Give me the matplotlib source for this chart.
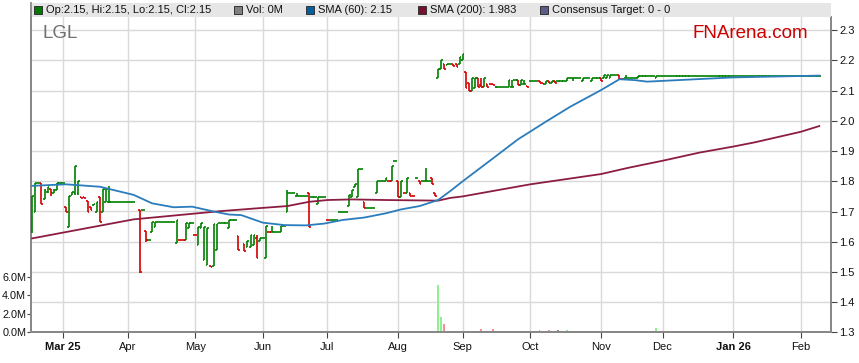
import numpy as np
import pandas as pd
import matplotlib
matplotlib.use("Agg")
import matplotlib.pyplot as plt

plt.rcParams["font.family"] = ["Liberation Sans", "DejaVu Sans"]
nan = np.nan

# trading days shown (weekdays), Feb 17 2025 -> Feb 10 2026
dates = pd.bdate_range("2025-02-17", "2026-02-10")

opens = [
    1.65, 1.70, 1.793, 1.793, 1.74, 1.765, 1.775, 1.76, 1.77, 1.793,
    1.793, 1.715, 1.65, 1.755, 1.76, 1.76, 1.747, 1.747, 1.735, 1.716,
    1.72, 1.70, 1.749, 1.70, 1.73, 1.73, 1.73, 1.73, 1.73, 1.73,
    1.73, 1.73, 1.73, 1.73, nan, 1.705, 1.705, 1.637, 1.606, 1.633,
    1.65, 1.666, 1.666, 1.666, 1.666, 1.666, 1.666, 1.595, 1.607, 1.607,
    1.606, 1.645, 1.663, 1.623, 1.59, 1.645, 1.54, 1.524, 1.521, 1.519,
    1.574, 1.663, 1.663, 1.663, 1.644, 1.672, 1.672, 1.62, nan, 1.594,
    1.581, 1.583, 1.59, 1.611, 1.602, 1.611, 1.547, 1.632, 1.631, 1.631,
    1.631, 1.631, 1.652, 1.70, 1.762, 1.762, 1.751, 1.751, 1.751, 1.751,
    1.762, 1.749, 1.749, 1.725, 1.749, 1.749, 1.673, 1.672, 1.672, 1.672,
    1.70, 1.70, 1.70, 1.718, 1.749, 1.78, 1.749, 1.84, 1.732, 1.71,
    1.71, 1.71, 1.761, 1.80, 1.80, 1.80, 1.801, 1.80, 1.868, 1.80,
    1.749, 1.761, 1.76, 1.76, 1.752, 1.81, 1.80, 1.80, 1.80, 1.80,
    1.81, 1.76, 2.141, 2.172, 2.19, 2.185, 2.19, 2.19, 2.19, 2.19,
    2.20, 2.163, 2.125, 2.10, 2.108, 2.141, 2.118, 2.113, 2.122, 2.122,
    2.122, 2.113, 2.113, 2.113, 2.113, 2.113, 2.113, 2.135, 2.135, 2.12,
    2.121, 2.114, 2.132, 2.132, 2.132, 2.132, 2.127, 2.122, 2.132, 2.125,
    2.132, 2.132, 2.132, 2.132, 2.132, 2.142, 2.142, 2.142, 2.142, 2.132,
    2.142, 2.142, 2.132, 2.142, 2.142, 2.142, 2.142, 2.142, 2.142, 2.152,
    2.152, 2.152, 2.14, 2.141, 2.141, 2.141, 2.141, 2.141, 2.15, 2.15,
    2.15, 2.15, 2.15, 2.143, 2.15, 2.15, 2.15, 2.15, 2.15, 2.15,
    2.15, 2.15, 2.15, 2.15, 2.15, 2.15, 2.15, 2.15, 2.15, 2.15,
    2.15, 2.15, 2.15, 2.15, 2.15, 2.15, 2.15, 2.15, 2.15, 2.15,
    2.15, 2.15, 2.15, 2.15, 2.15, 2.15, 2.15, 2.15, 2.15, 2.15,
    2.15, 2.15, 2.15, 2.15, 2.15, 2.15, 2.15, 2.15, 2.15, 2.15,
    2.15, 2.15, 2.15, 2.15, 2.15, 2.15, 2.15,
]
highs = [
    1.75, 1.793, 1.793, 1.793, 1.775, 1.78, 1.775, 1.775, 1.793, 1.793,
    1.793, 1.715, 1.75, 1.765, 1.852, 1.80, 1.747, 1.747, 1.735, 1.716,
    1.725, 1.733, 1.749, 1.775, 1.775, 1.783, 1.73, 1.73, 1.73, 1.73,
    1.73, 1.73, 1.73, 1.73, nan, 1.705, 1.705, 1.637, 1.606, 1.666,
    1.666, 1.666, 1.666, 1.666, 1.666, 1.666, 1.666, 1.672, 1.607, 1.607,
    1.663, 1.663, 1.663, 1.623, 1.648, 1.663, 1.65, 1.644, 1.521, 1.657,
    1.66, 1.663, 1.663, 1.663, 1.672, 1.672, 1.672, 1.62, nan, 1.594,
    1.602, 1.621, 1.621, 1.621, 1.611, 1.611, 1.652, 1.632, 1.652, 1.631,
    1.631, 1.652, 1.652, 1.771, 1.762, 1.762, 1.762, 1.751, 1.751, 1.751,
    1.762, 1.749, 1.749, 1.749, 1.749, 1.749, 1.673, 1.672, 1.672, 1.672,
    1.70, 1.70, 1.70, 1.754, 1.771, 1.79, 1.84, 1.84, 1.732, 1.71,
    1.71, 1.71, 1.80, 1.80, 1.80, 1.81, 1.801, 1.85, 1.868, 1.80,
    1.80, 1.761, 1.81, 1.76, 1.752, 1.81, 1.80, 1.80, 1.845, 1.80,
    1.81, 1.76, 2.172, 2.20, 2.19, 2.19, 2.19, 2.19, 2.19, 2.21,
    2.22, 2.163, 2.125, 2.141, 2.141, 2.141, 2.141, 2.141, 2.122, 2.122,
    2.122, 2.115, 2.113, 2.113, 2.113, 2.135, 2.135, 2.135, 2.135, 2.135,
    2.135, 2.114, 2.132, 2.132, 2.132, 2.132, 2.127, 2.132, 2.132, 2.132,
    2.132, 2.132, 2.132, 2.132, 2.142, 2.142, 2.142, 2.142, 2.142, 2.142,
    2.142, 2.142, 2.142, 2.142, 2.142, 2.142, 2.152, 2.152, 2.152, 2.152,
    2.152, 2.152, 2.14, 2.152, 2.141, 2.141, 2.141, 2.15, 2.15, 2.15,
    2.15, 2.15, 2.15, 2.15, 2.15, 2.15, 2.15, 2.15, 2.15, 2.15,
    2.15, 2.15, 2.15, 2.15, 2.15, 2.15, 2.15, 2.15, 2.15, 2.15,
    2.15, 2.15, 2.15, 2.15, 2.15, 2.15, 2.15, 2.15, 2.15, 2.15,
    2.15, 2.15, 2.15, 2.15, 2.15, 2.15, 2.15, 2.15, 2.15, 2.15,
    2.15, 2.15, 2.15, 2.15, 2.15, 2.15, 2.15, 2.15, 2.15, 2.15,
    2.15, 2.15, 2.15, 2.15, 2.15, 2.15, 2.15,
]
lows = [
    1.63, 1.70, 1.793, 1.725, 1.74, 1.762, 1.751, 1.76, 1.77, 1.793,
    1.793, 1.70, 1.65, 1.755, 1.755, 1.755, 1.746, 1.746, 1.70, 1.705,
    1.72, 1.70, 1.664, 1.70, 1.73, 1.729, 1.73, 1.73, 1.73, 1.73,
    1.73, 1.73, 1.73, 1.73, nan, 1.497, 1.705, 1.60, 1.606, 1.633,
    1.65, 1.666, 1.666, 1.666, 1.666, 1.666, 1.666, 1.595, 1.606, 1.606,
    1.606, 1.644, 1.663, 1.622, 1.59, 1.645, 1.54, 1.524, 1.517, 1.519,
    1.574, 1.663, 1.663, 1.663, 1.644, 1.672, 1.672, 1.572, nan, 1.57,
    1.581, 1.583, 1.589, 1.547, 1.602, 1.611, 1.547, 1.631, 1.631, 1.631,
    1.631, 1.631, 1.652, 1.699, 1.762, 1.762, 1.751, 1.751, 1.751, 1.751,
    1.65, 1.749, 1.749, 1.724, 1.749, 1.749, 1.672, 1.672, 1.672, 1.672,
    1.70, 1.70, 1.70, 1.718, 1.749, 1.78, 1.749, 1.84, 1.71, 1.71,
    1.71, 1.71, 1.761, 1.80, 1.80, 1.80, 1.80, 1.80, 1.868, 1.749,
    1.749, 1.76, 1.76, 1.751, 1.751, 1.81, 1.792, 1.80, 1.80, 1.80,
    1.792, 1.751, 2.141, 2.172, 2.172, 2.185, 2.19, 2.183, 2.18, 2.19,
    2.20, 2.108, 2.10, 2.10, 2.108, 2.113, 2.113, 2.113, 2.113, 2.121,
    2.12, 2.108, 2.113, 2.113, 2.113, 2.113, 2.113, 2.135, 2.12, 2.12,
    2.121, 2.113, 2.132, 2.132, 2.132, 2.127, 2.122, 2.122, 2.125, 2.125,
    2.127, 2.132, 2.132, 2.132, 2.132, 2.142, 2.132, 2.142, 2.142, 2.132,
    2.142, 2.142, 2.132, 2.142, 2.142, 2.132, 2.142, 2.142, 2.142, 2.152,
    2.152, 2.139, 2.139, 2.141, 2.141, 2.141, 2.141, 2.141, 2.15, 2.15,
    2.15, 2.15, 2.15, 2.143, 2.15, 2.15, 2.15, 2.15, 2.15, 2.15,
    2.15, 2.15, 2.15, 2.15, 2.15, 2.15, 2.15, 2.15, 2.15, 2.15,
    2.15, 2.15, 2.15, 2.15, 2.15, 2.15, 2.15, 2.15, 2.15, 2.15,
    2.15, 2.15, 2.15, 2.15, 2.15, 2.15, 2.15, 2.15, 2.15, 2.15,
    2.15, 2.15, 2.15, 2.15, 2.15, 2.15, 2.15, 2.15, 2.15, 2.15,
    2.15, 2.15, 2.15, 2.15, 2.15, 2.15, 2.15,
]
closes = [
    1.75, 1.793, 1.793, 1.725, 1.77, 1.78, 1.76, 1.77, 1.793, 1.793,
    1.793, 1.70, 1.75, 1.765, 1.852, 1.80, 1.746, 1.746, 1.70, 1.705,
    1.725, 1.733, 1.664, 1.775, 1.775, 1.73, 1.73, 1.73, 1.73, 1.73,
    1.73, 1.73, 1.73, 1.73, nan, 1.50, 1.705, 1.606, 1.606, 1.666,
    1.666, 1.666, 1.666, 1.666, 1.666, 1.666, 1.666, 1.672, 1.606, 1.606,
    1.663, 1.663, 1.663, 1.622, 1.648, 1.663, 1.65, 1.644, 1.517, 1.657,
    1.66, 1.663, 1.663, 1.663, 1.672, 1.672, 1.672, 1.572, nan, 1.57,
    1.602, 1.621, 1.621, 1.547, 1.611, 1.611, 1.652, 1.631, 1.631, 1.631,
    1.631, 1.652, 1.652, 1.762, 1.762, 1.762, 1.751, 1.751, 1.751, 1.751,
    1.65, 1.749, 1.749, 1.749, 1.749, 1.749, 1.672, 1.672, 1.672, 1.672,
    1.70, 1.70, 1.70, 1.754, 1.771, 1.79, 1.84, 1.84, 1.71, 1.71,
    1.71, 1.71, 1.80, 1.80, 1.80, 1.81, 1.80, 1.85, 1.868, 1.749,
    1.80, 1.76, 1.81, 1.751, 1.751, 1.81, 1.792, 1.80, 1.80, 1.80,
    1.792, 1.751, 2.172, 2.20, 2.172, 2.19, 2.19, 2.183, 2.18, 2.21,
    2.22, 2.108, 2.10, 2.141, 2.141, 2.113, 2.113, 2.141, 2.113, 2.121,
    2.12, 2.113, 2.113, 2.113, 2.113, 2.135, 2.113, 2.135, 2.12, 2.135,
    2.121, 2.113, 2.132, 2.132, 2.132, 2.127, 2.122, 2.132, 2.125, 2.132,
    2.127, 2.132, 2.132, 2.132, 2.142, 2.142, 2.142, 2.142, 2.142, 2.142,
    2.142, 2.142, 2.142, 2.142, 2.142, 2.132, 2.152, 2.152, 2.152, 2.152,
    2.152, 2.139, 2.139, 2.141, 2.141, 2.141, 2.141, 2.15, 2.15, 2.15,
    2.15, 2.15, 2.15, 2.15, 2.15, 2.15, 2.15, 2.15, 2.15, 2.15,
    2.15, 2.15, 2.15, 2.15, 2.15, 2.15, 2.15, 2.15, 2.15, 2.15,
    2.15, 2.15, 2.15, 2.15, 2.15, 2.15, 2.15, 2.15, 2.15, 2.15,
    2.15, 2.15, 2.15, 2.15, 2.15, 2.15, 2.15, 2.15, 2.15, 2.15,
    2.15, 2.15, 2.15, 2.15, 2.15, 2.15, 2.15, 2.15, 2.15, 2.15,
    2.15, 2.15, 2.15, 2.15, 2.15, 2.15, 2.15,
]

# volume (millions) on the few days that traded, by trading-day number
vol_day = [6, 83, 132, 133, 134, 135, 140, 141, 142, 146, 150, 153, 162, 165,
           166, 167, 168, 169, 170, 171, 172, 174, 175, 179, 185, 196, 202, 203]
vol_m = [0.05, 0.05, 5.1, 1.65, 0.9, 0.15, 0.1, 0.15, 0.15, 0.35, 0.35, 0.1, 0.08,
         0.25, 0.15, 0.12, 0.25, 0.15, 0.15, 0.25, 0.1, 0.25, 0.12, 0.12, 0.08,
         0.1, 0.12, 0.43]

# moving averages read at trading-day numbers
sma60_day = [0, 11, 22, 33, 39, 46, 52, 59, 64, 68, 75, 82, 89, 95, 101, 108,
             115, 120, 126, 132, 136, 140, 150, 158, 167, 175, 185, 191, 196,
             200, 208, 228, 256]
sma60 = [1.785, 1.79, 1.782, 1.755, 1.727, 1.714, 1.716, 1.70, 1.69, 1.688,
         1.663, 1.655, 1.654, 1.66, 1.672, 1.68, 1.694, 1.707, 1.718, 1.738,
         1.768, 1.80, 1.877, 1.939, 1.997, 2.047, 2.102, 2.138, 2.135, 2.13,
         2.134, 2.144, 2.15]
sma200_day = [0, 33, 61, 75, 83, 90, 96, 104, 115, 132, 136, 140, 162, 185,
              194, 205, 217, 228, 235, 250, 256]
sma200 = [1.611, 1.674, 1.701, 1.712, 1.718, 1.732, 1.738, 1.74, 1.738, 1.736,
          1.745, 1.75, 1.79, 1.824, 1.845, 1.868, 1.895, 1.915, 1.929, 1.964,
          1.983]

month_labels = ["Mar 25", "Apr", "May", "Jun", "Jul", "Aug", "Sep", "Oct",
                "Nov", "Dec", "Jan 26", "Feb"]

op = np.array(opens)
hi = np.array(highs)
lo = np.array(lows)
cl = np.array(closes)
x = np.arange(len(dates))
bar_col = np.where(cl >= op, "#008000", "#d40000")

fig = plt.figure(figsize=(8.59, 3.63), dpi=100)
W, H = 859.0, 363.0
ax_rect = [31 / W, (H - 332.3) / H, 800 / W, (332.3 - 17) / H]

# volume axis sits underneath the price axis
axv = fig.add_axes(ax_rect)
ax = fig.add_axes(ax_rect, sharex=axv)
ax.patch.set_visible(False)

vc = []
for d in vol_day:
    if cl[d] > op[d]:
        vc.append("#8ef08e")
    elif cl[d] < op[d]:
        vc.append("#f49090")
    else:
        vc.append("#8a8a8a")
axv.bar(vol_day, vol_m, width=0.6, color=vc, zorder=2)
axv.set_ylim(0, (332.3 - 17) / 18.5 * 2)
axv.set_yticks([0, 2, 4, 6])
axv.set_yticklabels(["0.0M", "2.0M", "4.0M", "6.0M"])

# OHLC bars
ax.vlines(x, lo, hi, colors=bar_col, lw=1.2, zorder=3)
ax.hlines(op, x - 0.55, x, colors=bar_col, lw=1.2, zorder=3)
ax.hlines(cl, x, x + 0.55, colors=bar_col, lw=1.2, zorder=3)

ax.plot(sma200_day, sma200, color="#8c1d42", lw=1.3, zorder=4)
ax.plot(sma60_day, sma60, color="#2a7cbc", lw=1.3, zorder=4)

ax.set_xlim(-0.4, 259.8)
ax.set_ylim(1.3, 1.3 + (332.3 - 17) / 302)
ax.set_yticks(np.round(np.arange(1.3, 2.31, 0.1), 1))
ax.set_yticklabels(["%.1f" % v for v in np.arange(1.3, 2.31, 0.1)])
ax.yaxis.tick_right()

# month ticks: first trading day of each month
month_pos = [i for i in range(1, len(dates)) if dates[i].month != dates[i - 1].month]
ax.set_xticks(month_pos)
ax.set_xticklabels(month_labels)
for lab in ax.get_xticklabels():
    if lab.get_text() in ("Mar 25", "Jan 26"):
        lab.set_fontweight("bold")

gc = "#d9d9d9"
axv.set_xticks(month_pos)
axv.grid(True, color=gc, lw=1)
axv.set_axisbelow(True)
# price gridlines live on the bottom axis so they stay behind everything
for v in np.arange(1.3, 2.31, 0.1):
    axv.axhline((v - 1.3) * 302 / 18.5 * 2, color=gc, lw=1, zorder=0)
axv.yaxis.grid(False)

for a in (ax, axv):
    a.spines["top"].set_visible(False)
    for s in ("left", "right", "bottom"):
        a.spines[s].set_color("#888888")
        a.spines[s].set_linewidth(1.3)
ax.tick_params(axis="y", right=True, left=False, length=4, color="#444444",
               labelsize=8, pad=2, labelcolor="#111111")
ax.tick_params(axis="x", length=4, color="#444444", labelsize=8, pad=3,
               labelcolor="#111111")
axv.tick_params(axis="y", left=True, right=False, length=3, color="#444444",
                labelsize=7.8, pad=0.5, labelcolor="#111111")
axv.tick_params(axis="x", labelbottom=False, length=0)

# header strip with legend
hax = fig.add_axes([31 / W, (H - 17) / H, 800 / W, 14 / H])
hax.set_facecolor("#e6e6e6")
hax.set_xlim(31, 831)
hax.set_ylim(17, 3)
hax.set_xticks([])
hax.set_yticks([])
for s in ("top", "right", "bottom"):
    hax.spines[s].set_visible(False)
hax.spines["left"].set_color("#888888")
hax.spines["left"].set_linewidth(1.3)

legend_txt = ["Op:2.15, Hi:2.15, Lo:2.15, Cl:2.15", "Vol: 0M", "SMA (60): 2.15",
              "SMA (200): 1.983", "Consensus Target: 0 - 0"]
legend_col = ["#007a00", "#808080", "#005f9e", "#7a1030", "#5c5c8a"]
legend_x = [37.5, 238, 310, 421.5, 543.5]
for t, c, px in zip(legend_txt, legend_col, legend_x):
    hax.plot(px, 10, marker="s", ms=5.5, mfc=c, mec="#333333", mew=0.7,
             clip_on=False)
    hax.text(px + 8.5, 10.3, t, fontsize=8, va="center", ha="left",
             color="#111111")

fig.text(42 / W, 1 - 33 / H, "LGL", fontsize=13.5, color="#707070",
         va="center", ha="left")
fig.text(693 / W, 1 - 33 / H, "FNArena.com", fontsize=13.5, color="#cc0000",
         va="center", ha="left")

fig.savefig("out.png", dpi=100)
